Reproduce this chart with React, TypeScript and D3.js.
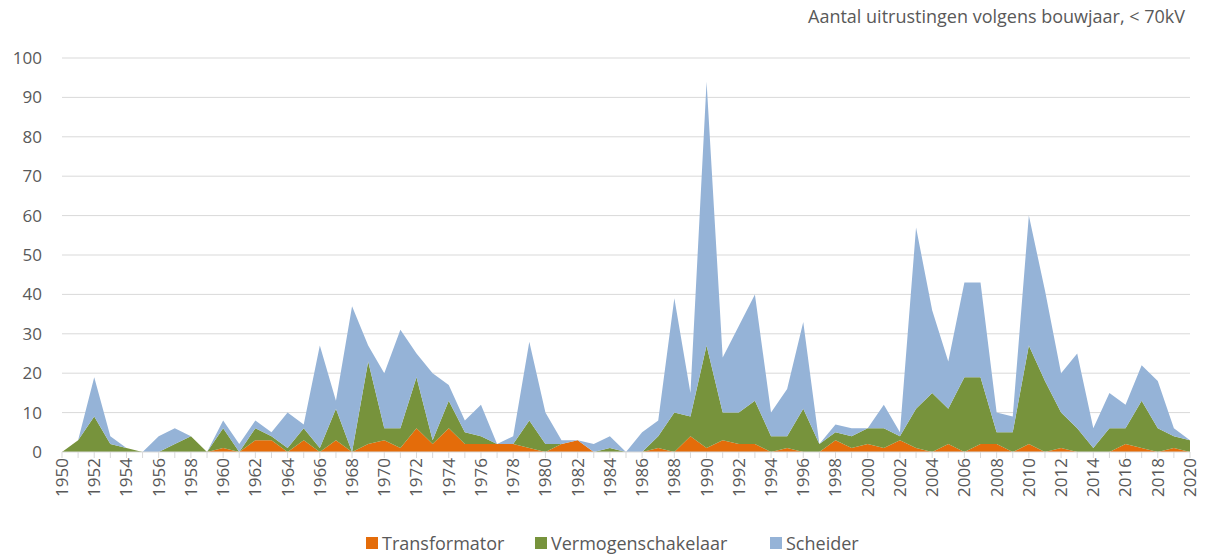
import React, { useEffect, useRef } from 'react';
import * as d3 from 'd3';

// years 1950 .. 2020
const years: number[] = d3.range(1950, 2021);

const transformator: number[] = [
  0, 0, 0, 0, 0, 0, 0, 0, 0, 0,
  1, 0, 3, 3, 0, 3, 0, 3, 0, 2,
  3, 1, 6, 2, 6, 2, 2, 2, 2, 1,
  0, 2, 3, 0, 0, 0, 0, 1, 0, 4,
  1, 3, 2, 2, 0, 1, 0, 0, 3, 1,
  2, 1, 3, 1, 0, 2, 0, 2, 2, 0,
  2, 0, 1, 0, 0, 0, 2, 1, 0, 1,
  0,
];

const vermogenschakelaar: number[] = [
  0, 3, 9, 2, 1, 0, 0, 2, 4, 0,
  5, 0, 3, 1, 1, 3, 1, 8, 0, 21,
  3, 5, 13, 1, 7, 3, 2, 0, 0, 7,
  2, 0, 0, 0, 1, 0, 0, 3, 10, 5,
  26, 7, 8, 11, 4, 3, 11, 2, 2, 3,
  4, 5, 1, 10, 15, 9, 19, 17, 3, 5,
  25, 18, 9, 6, 1, 6, 4, 12, 6, 3,
  3,
];

const scheider: number[] = [
  0, 0, 10, 2, 0, 0, 4, 4, 0, 0,
  2, 2, 2, 1, 9, 1, 26, 2, 37, 4,
  14, 25, 6, 17, 4, 3, 8, 0, 2, 20,
  8, 1, 0, 2, 3, 0, 5, 4, 29, 6,
  67, 14, 22, 27, 6, 12, 22, 0, 2, 2,
  0, 6, 1, 46, 21, 12, 24, 24, 5, 4,
  33, 23, 10, 19, 5, 9, 6, 9, 12, 2,
  0,
];

const seriesNames = ['Transformator', 'Vermogenschakelaar', 'Scheider'];
const seriesColors = ['#e46c0a', '#77933c', '#95b3d7'];
const yTicks = [0, 10, 20, 30, 40, 50, 60, 70, 80, 90, 100];

const W = 1205;
const H = 559;
const margin = { left: 62, right: 15, top: 58, bottom: 107 };
const textColor = '#595959';
const gridColor = '#d9d9d9';
const font = '"Open Sans", sans-serif';

export default function App() {
  const ref = useRef<SVGSVGElement>(null);

  useEffect(() => {
    const svg = d3.select(ref.current);
    svg.selectAll('*').remove();

    const rows = years.map((y, i) => ({
      year: y,
      Transformator: transformator[i],
      Vermogenschakelaar: vermogenschakelaar[i],
      Scheider: scheider[i],
    }));

    const x = d3.scaleLinear()
      .domain([1950, 2020])
      .range([margin.left, W - margin.right]);
    const y = d3.scaleLinear()
      .domain([0, 100])
      .range([H - margin.bottom, margin.top]);

    // gridlines
    svg.append('g')
      .selectAll('line')
      .data(yTicks.filter(t => t > 0))
      .join('line')
      .attr('x1', x(1950))
      .attr('x2', x(2020))
      .attr('y1', d => y(d))
      .attr('y2', d => y(d))
      .attr('stroke', gridColor)
      .attr('stroke-width', 1);

    const stacked = d3.stack<any>().keys(seriesNames)(rows);
    const area = d3.area<any>()
      .x(d => x(d.data.year))
      .y0(d => y(d[0]))
      .y1(d => y(d[1]));

    svg.append('g')
      .selectAll('path')
      .data(stacked)
      .join('path')
      .attr('fill', (_d, i) => seriesColors[i])
      .attr('d', area as any);

    // y labels
    svg.append('g')
      .selectAll('text')
      .data(yTicks)
      .join('text')
      .attr('x', 42)
      .attr('y', d => y(d))
      .attr('dy', '0.35em')
      .attr('text-anchor', 'end')
      .attr('font-family', font)
      .attr('font-size', 17)
      .attr('fill', textColor)
      .text(d => d);

    // x axis line + ticks
    const base = y(0);
    svg.append('line')
      .attr('x1', x(1950))
      .attr('x2', x(2020))
      .attr('y1', base)
      .attr('y2', base)
      .attr('stroke', gridColor);
    svg.append('g')
      .selectAll('line')
      .data(years)
      .join('line')
      .attr('x1', d => x(d))
      .attr('x2', d => x(d))
      .attr('y1', base)
      .attr('y2', base + 6)
      .attr('stroke', gridColor);

    svg.append('g')
      .selectAll('text')
      .data(years.filter(d => d % 2 === 0))
      .join('text')
      .attr('transform', d => `translate(${x(d)}, ${base + 6}) rotate(-90)`)
      .attr('dy', '0.35em')
      .attr('text-anchor', 'end')
      .attr('font-family', font)
      .attr('font-size', 17)
      .attr('fill', textColor)
      .text(d => d);

    // title
    svg.append('text')
      .attr('x', 1185)
      .attr('y', 23)
      .attr('text-anchor', 'end')
      .attr('font-family', font)
      .attr('font-size', 18)
      .attr('fill', textColor)
      .text('Aantal uitrustingen volgens bouwjaar, < 70kV');

    // legend
    const legendX = [366, 535, 770];
    const lg = svg.append('g');
    seriesNames.forEach((name, i) => {
      lg.append('rect')
        .attr('x', legendX[i])
        .attr('y', 537)
        .attr('width', 12)
        .attr('height', 12)
        .attr('fill', seriesColors[i]);
      lg.append('text')
        .attr('x', legendX[i] + 16)
        .attr('y', 550)
        .attr('font-family', font)
        .attr('font-size', 18)
        .attr('fill', textColor)
        .text(name);
    });
  }, []);

  return (
    <svg ref={ref} width={W} height={H} style={{ position: 'absolute', left: 0, top: 0 }} />
  );
}
